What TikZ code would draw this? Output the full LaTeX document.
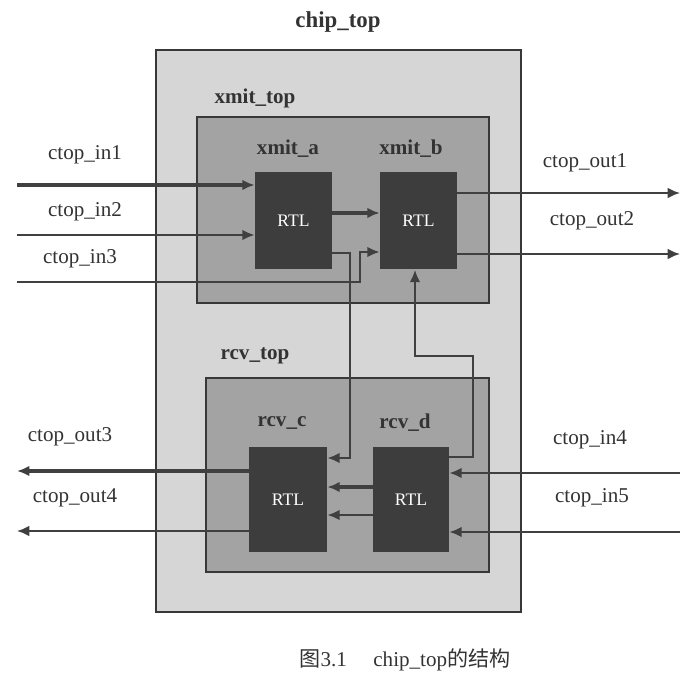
\documentclass[tikz,border=0pt]{standalone}
\usepackage{fontspec}
\setmainfont{Liberation Serif}
\newfontfamily\cjk{Noto Sans CJK SC}
\usetikzlibrary{arrows.meta}

\begin{document}
\begin{tikzpicture}[x = 0.02cm, y = -0.02cm,
    every node/.style = {font = \fontsize{12}{14}\selectfont, text = black!80},
    chipbox/.style = {draw = black!78, line width = 1.5pt, fill = black!16,
      inner sep = 0pt},
    subbox/.style = {chipbox, fill = black!36},
    rtl/.style = {fill = black!76, text = white, inner sep = 0pt,
      font = \fontsize{10}{12}\selectfont},
    modname/.style = {font = \fontsize{12}{14}\selectfont\bfseries},
    wire/.style = {draw = black!75, line width = 1.1pt,
      -{Latex[length = 7pt, width = 6pt]}},
    bus/.style = {wire, line width = 2.8pt},
  ]
  \useasboundingbox (0,0) rectangle (689,685);

  % hierarchy boxes
  \node [chipbox, minimum width = 7.3cm, minimum height = 11.24cm] (chip) at (338.5,331) {};
  \node [subbox, minimum width = 5.84cm, minimum height = 3.72cm] (xmit) at (343,210) {};
  \node [subbox, minimum width = 5.66cm, minimum height = 3.88cm] (rcv) at (347.5,475) {};

  \node [modname, font = \fontsize{13}{15}\selectfont\bfseries] (chipname) at (338,22) {chip\_top};
  \node [modname] (xmitname) at (255,98) {xmit\_top};
  \node [modname] (rcvname) at (255,356) {rcv\_top};

  % RTL blocks
  \node [rtl, minimum width = 1.54cm, minimum height = 1.96cm] (xmit_a) at (293.5,220.5) {RTL};
  \node [rtl, minimum width = 1.54cm, minimum height = 1.96cm] (xmit_b) at (418.5,220.5) {RTL};
  \node [rtl, minimum width = 1.56cm, minimum height = 2.1cm] (rcv_c) at (288,499.5) {RTL};
  \node [rtl, minimum width = 1.52cm, minimum height = 2.1cm] (rcv_d) at (411,499.5) {RTL};

  \node [modname] (xmit_a_name) at (288,149) {xmit\_a};
  \node [modname] (xmit_b_name) at (411,149) {xmit\_b};
  \node [modname] (rcv_c_name) at (282,423) {rcv\_c};
  \node [modname] (rcv_d_name) at (405,423) {rcv\_d};

  % ports
  \coordinate (in1) at (17,185);
  \coordinate (in2) at (17,235);
  \coordinate (in3) at (17,282);
  \coordinate (out1) at (680,193);
  \coordinate (out2) at (680,254);
  \coordinate (out3) at (17,471);
  \coordinate (out4) at (17,531);
  \coordinate (in4) at (680,473);
  \coordinate (in5) at (680,532);

  \node (in1_lbl) at (85,155) {ctop\_in1};
  \node (in2_lbl) at (85,212) {ctop\_in2};
  \node (in3_lbl) at (80,259) {ctop\_in3};
  \node (out1_lbl) at (585,163) {ctop\_out1};
  \node (out2_lbl) at (592,221) {ctop\_out2};
  \node (out3_lbl) at (70,437) {ctop\_out3};
  \node (out4_lbl) at (75,498) {ctop\_out4};
  \node (in4_lbl) at (590,440) {ctop\_in4};
  \node (in5_lbl) at (592,498) {ctop\_in5};

  % xmit side
  \draw [bus] (in1) -- (xmit_a.west |- in1);
  \draw [wire] (in2) -- (xmit_a.west |- in2);
  \draw [wire] (in3) -- (360,282) |- (xmit_b.west |- 0,252);
  \draw [bus] (xmit_a.east |- 0,213) -- (xmit_b.west |- 0,213);
  \draw [wire] (xmit_b.east |- out1) -- (out1);
  \draw [wire] (xmit_b.east |- out2) -- (out2);

  % rcv side
  \draw [bus] (rcv_c.west |- out3) -- (out3);
  \draw [wire] (rcv_c.west |- out4) -- (out4);
  \draw [wire] (in4) -- (rcv_d.east |- in4);
  \draw [wire] (in5) -- (rcv_d.east |- in5);
  \draw [bus] (rcv_d.west |- 0,487) -- (rcv_c.east |- 0,487);
  \draw [wire] (rcv_d.west |- 0,515) -- (rcv_c.east |- 0,515);

  % cross links
  \draw [wire] (xmit_a.east |- 0,253) -| (350,458) -- (rcv_c.east |- 0,458);
  \draw [wire] (rcv_d.east |- 0,457) -| (473,356) -| ([xshift = -0.07cm]xmit_b.south);

  \node (caption) at (405,660) {{\cjk 图}3.1\quad\ chip\_top{\cjk 的结构}};
\end{tikzpicture}
\end{document}
